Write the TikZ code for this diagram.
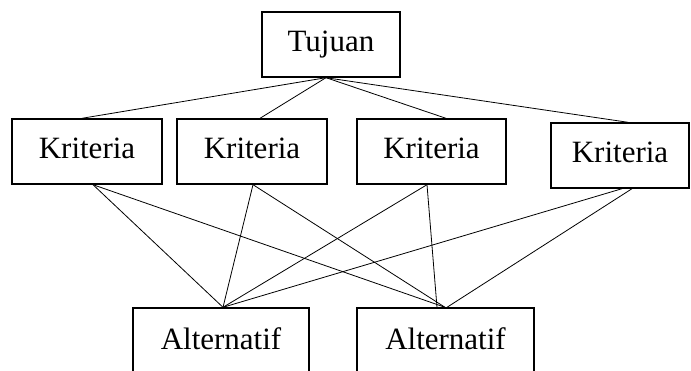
\documentclass[tikz,border=0pt]{standalone}
\usepackage{fontspec}
\setmainfont{Liberation Serif}
\begin{document}
\begin{tikzpicture}[x=1pt,y=-1pt,
  box/.style={draw,line width=1.4pt,rectangle,inner sep=0pt,
    font=\fontsize{31}{37}\selectfont,text height=21pt,text depth=6pt},
  conn/.style={line width=0.8pt}]
\useasboundingbox (0,0) rectangle (691,371);
\clip (0,0) rectangle (691,371);
\node[box,minimum width=138pt,minimum height=65pt] (t) at (331,44.5) {Tujuan};
\node[box,minimum width=150pt,minimum height=65pt] (k1) at (87,151.5) {Kriteria};
\node[box,minimum width=150pt,minimum height=65pt] (k2) at (252,151.5) {Kriteria};
\node[box,minimum width=149pt,minimum height=65pt] (k3) at (431.5,151.5) {Kriteria};
\node[box,minimum width=138pt,minimum height=65pt] (k4) at (620,155.5) {Kriteria};
\node[box,minimum width=176pt,minimum height=67pt] (a1) at (221,341.5) {Alternatif};
\node[box,minimum width=177pt,minimum height=67pt] (a2) at (445.5,341.5) {Alternatif};
% goal to criteria
\draw[conn] ([xshift=-5pt]t.south) -- ([xshift=-5pt]k1.north);
\draw[conn] ([xshift=-5pt]t.south) -- ([xshift=8pt]k2.north);
\draw[conn] ([xshift=-5pt]t.south) -- ([xshift=14.5pt]k3.north);
\draw[conn] ([xshift=-5pt]t.south) -- ([xshift=8pt]k4.north);
% criteria to alternatives
\draw[conn] ([xshift=6pt]k1.south) -- ([xshift=2pt]a1.north);
\draw[conn] ([xshift=6pt]k1.south) -- ([xshift=-0.5pt]a2.north);
\draw[conn] ([xshift=1pt]k2.south) -- ([xshift=2pt]a1.north);
\draw[conn] ([xshift=1pt]k2.south) -- ([xshift=-0.5pt]a2.north);
\draw[conn] ([xshift=-4.5pt]k3.south) -- ([xshift=2pt]a1.north);
\draw[conn] ([xshift=-4.5pt]k3.south) -- ([xshift=-8.5pt]a2.north);
\draw[conn] ([xshift=2pt]k4.south) -- ([xshift=2pt]a1.north);
\draw[conn] ([xshift=12pt]k4.south) -- ([xshift=1.5pt]a2.north);
\end{tikzpicture}
\end{document}
